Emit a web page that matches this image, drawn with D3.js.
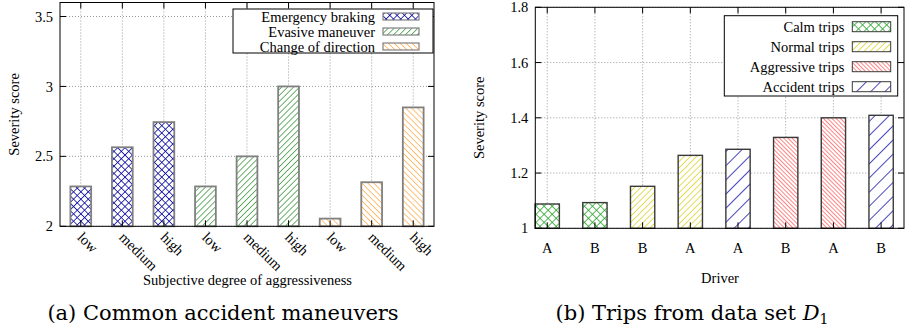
<!DOCTYPE html>
<html>
<head>
<meta charset="utf-8">
<script src="https://cdn.jsdelivr.net/npm/d3@7"></script>
<style>
  body { margin: 0; background: #fff; }
  svg { display: block; }
  text { font-family: "Liberation Serif", "Times New Roman", serif; font-size: 14.5px; fill: #000; }
  .caption { font-family: "DejaVu Serif", serif; font-size: 21px; }
  .grid line { stroke: #999; stroke-dasharray: 1,2; stroke-width: 1; }
</style>
</head>
<body>
<div id="chart"></div>
<script>
//left panel data
var levels = ["low", "medium", "high"],
    maneuvers = ["Emergency braking", "Evasive maneuver", "Change of direction"],
    maneuverScores = [[2.285, 2.565, 2.745], [2.285, 2.5, 3.0], [2.055, 2.315, 2.85]],
    leftTicks = [2, 2.5, 3, 3.5];

//right panel data
var tripTypes = ["Calm trips", "Normal trips", "Aggressive trips", "Accident trips"],
    tripDrivers = ["A", "B", "B", "A", "A", "B", "A", "B"],
    tripTypeOfBar = [0, 0, 1, 1, 3, 2, 2, 3],
    tripScores = [1.088, 1.093, 1.152, 1.264, 1.286, 1.329, 1.400, 1.409],
    rightTicks = [1, 1.2, 1.4, 1.6, 1.8];

var svg = d3.select("#chart").append("svg")
    .attr("width", 905)
    .attr("height", 332);

var defs = svg.append("defs");

//hatch patterns: kind "/" , "\" or "x"
function hatch(id, color, gap, kind, sw) {
    var p = defs.append("pattern")
        .attr("id", id)
        .attr("patternUnits", "userSpaceOnUse")
        .attr("width", gap).attr("height", gap)
        .attr("patternTransform", "rotate(" + (kind == "\\" ? -45 : 45) + ")");
    p.append("rect").attr("width", gap).attr("height", gap).attr("fill", "#fff");
    p.append("line").attr("x1", 0).attr("y1", 0).attr("x2", 0).attr("y2", gap)
        .attr("stroke", color).attr("stroke-width", sw);
    if (kind == "x") {
        p.append("line").attr("x1", 0).attr("y1", 0).attr("x2", gap).attr("y2", 0)
            .attr("stroke", color).attr("stroke-width", sw);
    }
}
hatch("pEB", "#0a0aa0", 5.2, "x", 1.6);
hatch("pEV", "#1f8a1f", 4.2, "/", 1.3);
hatch("pCD", "#ffa030", 4.2, "\\", 1.3);
hatch("pCalm", "#22a022", 5.7, "x", 1.5);
hatch("pNormal", "#d6cc00", 4.4, "/", 1.3);
hatch("pAggr", "#ff2020", 3.0, "\\", 1.1);
hatch("pAcc", "#0a0aa8", 10, "/", 1.5);

var leftFills = ["url(#pEB)", "url(#pEV)", "url(#pCD)"],
    rightFills = ["url(#pCalm)", "url(#pNormal)", "url(#pAggr)", "url(#pAcc)"];

//dotted grid behind the bars
function frame(g, x0, x1, y0, y1, xs, ys, ticks) {
    var grid = g.append("g").attr("class", "grid");
    grid.selectAll(".gy").data(ticks).enter().append("line")
        .attr("x1", x0).attr("x2", x1)
        .attr("y1", function(d) { return ys(d); }).attr("y2", function(d) { return ys(d); });
    grid.selectAll(".gx").data(xs).enter().append("line")
        .attr("x1", function(d) { return d; }).attr("x2", function(d) { return d; })
        .attr("y1", y0).attr("y2", y1);
}

//box, mirrored inward ticks and y tick labels
function border(g, x0, x1, y0, y1, xs, ys, ticks) {
    g.append("rect")
        .attr("x", x0).attr("y", y0)
        .attr("width", x1 - x0).attr("height", y1 - y0)
        .attr("fill", "none").attr("stroke", "#000").attr("stroke-width", 1);
    var t = g.append("g").attr("stroke", "#000").attr("stroke-width", 1);
    ticks.forEach(function(d) {
        t.append("line").attr("x1", x0).attr("x2", x0 + 6).attr("y1", ys(d)).attr("y2", ys(d));
        t.append("line").attr("x1", x1 - 6).attr("x2", x1).attr("y1", ys(d)).attr("y2", ys(d));
    });
    xs.forEach(function(d) {
        t.append("line").attr("x1", d).attr("x2", d).attr("y1", y0).attr("y2", y0 + 6);
        t.append("line").attr("x1", d).attr("x2", d).attr("y1", y1 - 6).attr("y2", y1);
    });
    g.selectAll(".tl").data(ticks).enter().append("text")
        .attr("x", x0 - 7).attr("y", function(d) { return ys(d); })
        .attr("dy", "0.35em")
        .style("text-anchor", "end")
        .text(function(d) { return d; });
}

//----- left panel -----
var L = { x0: 60, x1: 434, y0: 2.5, y1: 226.3 };
var leftBars = [];
maneuvers.forEach(function(m, i) {
    levels.forEach(function(l, j) {
        leftBars.push({ m: i, level: l, value: maneuverScores[i][j] });
    });
});
var xL = d3.scaleBand()
    .domain(d3.range(leftBars.length))
    .range([L.x0, L.x1])
    .paddingInner(0.5)
    .paddingOuter(0.25);
var yL = d3.scaleLinear().domain([2, 3.6]).range([L.y1, L.y0]);
var leftCenters = leftBars.map(function(d, i) { return xL(i) + xL.bandwidth() / 2; });

var gl = svg.append("g");
frame(gl, L.x0, L.x1, L.y0, L.y1, leftCenters, yL, leftTicks);

gl.selectAll(".bar").data(leftBars).enter().append("rect")
    .attr("x", function(d, i) { return xL(i); })
    .attr("y", function(d) { return yL(d.value); })
    .attr("width", xL.bandwidth())
    .attr("height", function(d) { return yL(2) - yL(d.value); })
    .attr("fill", function(d) { return leftFills[d.m]; })
    .attr("stroke", "#808080").attr("stroke-width", 1.8);

border(gl, L.x0, L.x1, L.y0, L.y1, leftCenters, yL, leftTicks);

gl.selectAll(".xl").data(leftBars).enter().append("text")
    .attr("transform", function(d, i) { return "translate(" + (leftCenters[i] + 3) + "," + 231 + ") rotate(45)"; })
    .attr("dy", "0.7em")
    .style("text-anchor", "start")
    .text(function(d) { return d.level; });

gl.append("text")
    .attr("x", 247.5).attr("y", 285)
    .style("text-anchor", "middle")
    .text("Subjective degree of aggressiveness");
gl.append("text")
    .attr("transform", "translate(19," + ((L.y0 + L.y1) / 2) + ") rotate(-90)")
    .style("text-anchor", "middle")
    .text("Severity score");

//left legend
var lg = gl.append("g");
lg.append("rect").attr("x", 233).attr("y", 9).attr("width", 200).attr("height", 44)
    .attr("fill", "#fff").attr("stroke", "#000").attr("stroke-width", 1);
maneuvers.forEach(function(m, i) {
    var cy = 16.5 + i * 15;
    lg.append("text").attr("x", 375).attr("y", cy).attr("dy", "0.35em")
        .style("text-anchor", "end").text(m);
    lg.append("rect").attr("x", 383).attr("y", cy - 3.5).attr("width", 36).attr("height", 7)
        .attr("fill", leftFills[i]).attr("stroke", "#808080").attr("stroke-width", 1.2);
});

svg.append("text").attr("class", "caption")
    .attr("x", 223).attr("y", 320)
    .style("text-anchor", "middle")
    .text("(a) Common accident maneuvers");

//----- right panel -----
var R = { x0: 535.3, x1: 904, y0: 7.3, y1: 228.3 };
var xR = d3.scaleLinear().domain([-0.25, 7.48]).range([R.x0, R.x1]);
var yR = d3.scaleLinear().domain([1, 1.8]).range([R.y1, R.y0]);
var barW = 24.3;
var rightCenters = tripScores.map(function(d, i) { return xR(i); });

var gr = svg.append("g");
frame(gr, R.x0, R.x1, R.y0, R.y1, rightCenters, yR, rightTicks);

gr.selectAll(".bar").data(tripScores).enter().append("rect")
    .attr("x", function(d, i) { return xR(i) - barW / 2; })
    .attr("y", function(d) { return yR(d); })
    .attr("width", barW)
    .attr("height", function(d) { return yR(1) - yR(d); })
    .attr("fill", function(d, i) { return rightFills[tripTypeOfBar[i]]; })
    .attr("stroke", "#3a3a3a").attr("stroke-width", 1.4);

border(gr, R.x0, R.x1, R.y0, R.y1, rightCenters, yR, rightTicks);

gr.selectAll(".xl").data(tripDrivers).enter().append("text")
    .attr("x", function(d, i) { return xR(i); })
    .attr("y", 253)
    .style("text-anchor", "middle")
    .text(function(d) { return d; });

gr.append("text")
    .attr("x", 720).attr("y", 283)
    .style("text-anchor", "middle")
    .text("Driver");
gr.append("text")
    .attr("transform", "translate(484," + ((R.y0 + R.y1) / 2) + ") rotate(-90)")
    .style("text-anchor", "middle")
    .text("Severity score");

//right legend
var rg = gr.append("g");
rg.append("rect").attr("x", 724.3).attr("y", 15.7).attr("width", 173.4).attr("height", 80.3)
    .attr("fill", "#fff").attr("stroke", "#000").attr("stroke-width", 1);
tripTypes.forEach(function(t, i) {
    var cy = 26.7 + i * 20;
    rg.append("text").attr("x", 844.3).attr("y", cy).attr("dy", "0.35em")
        .style("text-anchor", "end").text(t);
    rg.append("rect").attr("x", 852.3).attr("y", cy - 5).attr("width", 38.4).attr("height", 10)
        .attr("fill", rightFills[i]).attr("stroke", "#3a3a3a").attr("stroke-width", 1);
});

var capB = svg.append("text").attr("class", "caption")
    .attr("x", 692).attr("y", 320)
    .style("text-anchor", "middle");
capB.append("tspan").text("(b) Trips from data set ");
capB.append("tspan").style("font-style", "italic").text("D");
capB.append("tspan").attr("dy", 4).style("font-size", "14px").text("1");
</script>
</body>
</html>
